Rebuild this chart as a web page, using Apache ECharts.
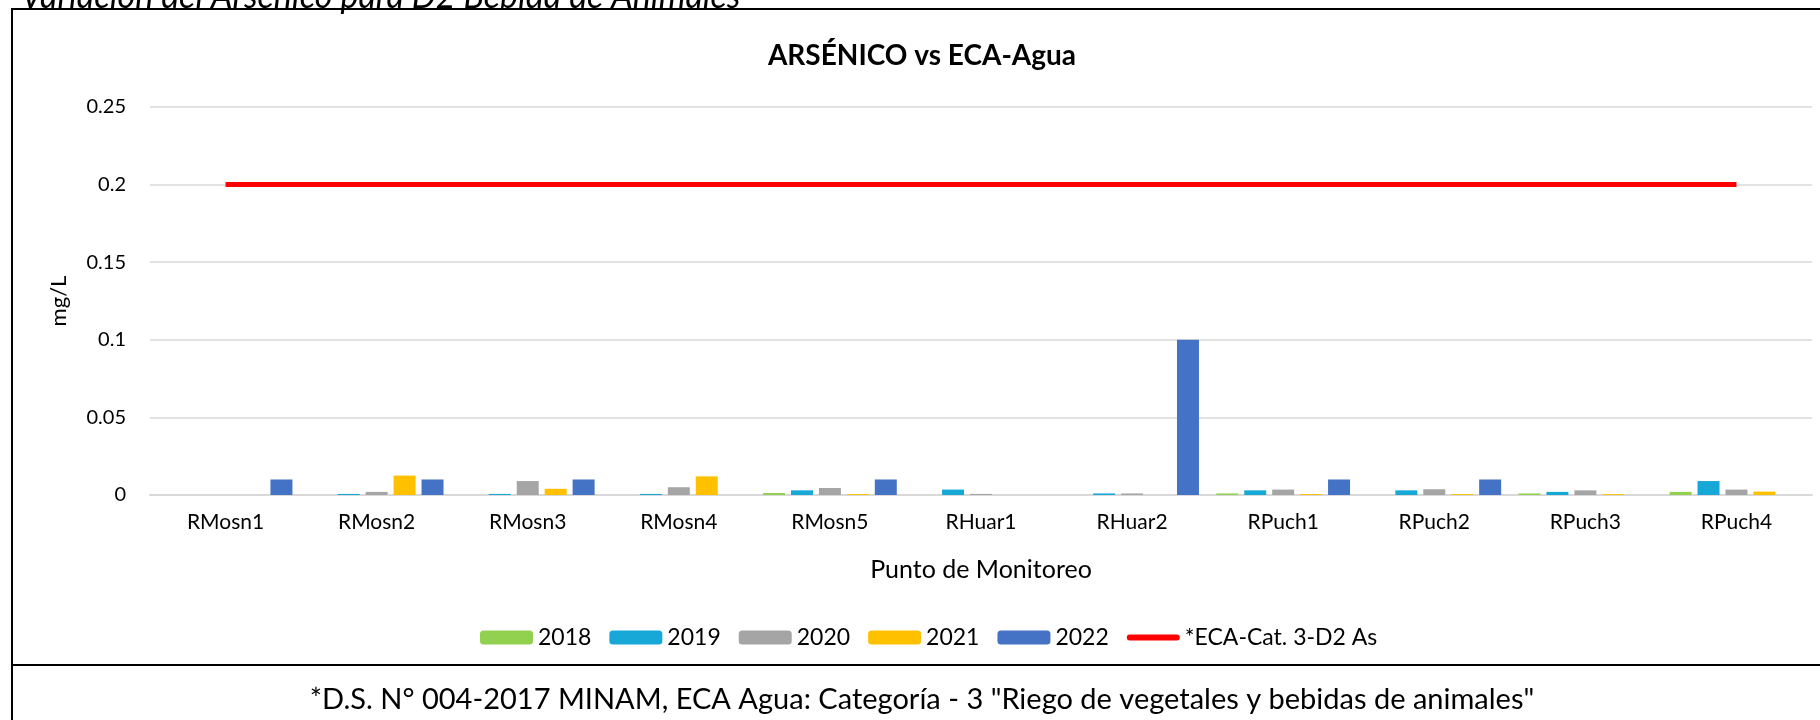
<!DOCTYPE html>
<html>
<head>
<meta charset="utf-8">
<script src="https://cdn.jsdelivr.net/npm/echarts@6/dist/echarts.min.js"></script>
<style>
  html, body { margin: 0; padding: 0; background: #fff; }
  #chart { width: 1820px; height: 720px; }
</style>
</head>
<body>
<div id="chart"></div>
<script>
// 数据
const categories = ['RMosn1', 'RMosn2', 'RMosn3', 'RMosn4', 'RMosn5', 'RHuar1', 'RHuar2', 'RPuch1', 'RPuch2', 'RPuch3', 'RPuch4'];
const years = ['2018', '2019', '2020', '2021', '2022'];
const v2018 = [null, null, null, null, 0.0013, null, null, 0.001, null, 0.001, 0.002];
const v2019 = [null, 0.0007, 0.0007, 0.0007, 0.003, 0.0035, 0.001, 0.003, 0.003, 0.002, 0.009];
const v2020 = [null, 0.002, 0.009, 0.005, 0.0045, 0.0007, 0.001, 0.0035, 0.0037, 0.003, 0.0035];
const v2021 = [null, 0.0125, 0.004, 0.012, 0.0006, null, null, 0.0006, 0.0006, 0.0006, 0.0022];
const v2022 = [0.01, 0.01, 0.01, null, 0.01, null, 0.1, 0.01, 0.01, null, null];
const ecaName = '*ECA-Cat. 3-D2 As';
const ecaValues = [0.2, 0.2, 0.2, 0.2, 0.2, 0.2, 0.2, 0.2, 0.2, 0.2, 0.2];
const yearColors = ['#92D050', '#17A8D8', '#A5A5A5', '#FFC000', '#4472C4'];

const FONT = 'Lato, "Open Sans", sans-serif';
const chart = echarts.init(document.getElementById('chart'));

const barSeries = [v2018, v2019, v2020, v2021, v2022].map((vals, i) => ({
  name: years[i],
  type: 'bar',
  data: vals,
  barWidth: 22,
  barGap: '27%',
  itemStyle: { color: yearColors[i] }
}));

// 图例：红线用一条粗线表示，不带圆点
const legendData = years.map(y => ({ name: y }))
  .concat([{ name: ecaName, icon: 'path://M3,0 L50,0 A3,3 0 0 1 50,6 L3,6 A3,3 0 0 1 3,0 Z' }]);

chart.setOption({
  animation: false,
  textStyle: { fontFamily: FONT },
  grid: { left: 150, right: 8, top: 107, bottom: 225 },
  legend: {
    data: legendData,
    left: 475,
    top: 621,
    itemWidth: 53,
    itemHeight: 14,
    itemGap: 18,
    textStyle: { fontSize: 23, color: '#000', fontFamily: FONT }
  },
  xAxis: {
    type: 'category',
    data: categories,
    name: 'Punto de Monitoreo',
    nameLocation: 'middle',
    nameGap: 62,
    nameTextStyle: { fontSize: 25, color: '#000' },
    axisLine: { lineStyle: { color: '#D9D9D9', width: 2 } },
    axisTick: { show: false },
    axisLabel: { fontSize: 21, color: '#000', margin: 17 }
  },
  yAxis: {
    type: 'value',
    min: 0,
    max: 0.25,
    interval: 0.05,
    name: 'mg/L',
    nameLocation: 'middle',
    nameGap: 80,
    nameTextStyle: { fontSize: 22, color: '#000' },
    axisLine: { show: false },
    axisTick: { show: false },
    axisLabel: { fontSize: 20, color: '#000', margin: 24 },
    splitLine: { lineStyle: { color: '#D9D9D9', width: 1.5 } }
  },
  series: barSeries.concat([{
    name: ecaName,
    type: 'line',
    data: ecaValues,
    symbol: 'none',
    lineStyle: { color: '#FF0000', width: 5 },
    itemStyle: { color: '#FF0000' },
    z: 5
  }]),
  graphic: [
    {
      type: 'rect',
      shape: { x: 12, y: 9, width: 1830, height: 656 },
      style: { fill: 'none', stroke: '#000', lineWidth: 2 }
    },
    {
      type: 'rect',
      shape: { x: 12, y: 665, width: 1830, height: 80 },
      style: { fill: 'none', stroke: '#000', lineWidth: 2 }
    },
    {
      type: 'text',
      style: {
        text: 'Variación del Arsénico para D2 Bebida de Animales',
        x: 21, y: 14,
        align: 'left', verticalAlign: 'bottom',
        font: 'italic 34px ' + FONT,
        fill: '#000'
      }
    },
    {
      type: 'text',
      style: {
        text: 'ARSÉNICO vs ECA-Agua',
        x: 922, y: 56,
        align: 'center', verticalAlign: 'middle',
        font: 'bold 28px ' + FONT,
        fill: '#000'
      }
    },
    {
      type: 'text',
      style: {
        text: '*D.S. N° 004-2017 MINAM, ECA Agua: Categoría - 3 "Riego de vegetales y bebidas de animales"',
        x: 922, y: 700,
        align: 'center', verticalAlign: 'middle',
        font: '29px ' + FONT,
        fill: '#000'
      }
    }
  ]
});
</script>
</body>
</html>
